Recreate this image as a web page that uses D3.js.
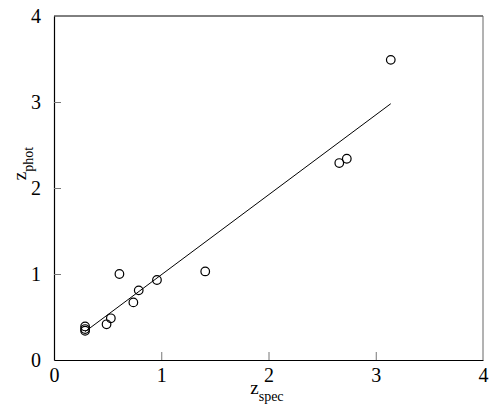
<!DOCTYPE html>
<html>
<head>
<meta charset="utf-8">
<script src="https://cdn.jsdelivr.net/npm/d3@7"></script>
<style>
  body { margin: 0; background: #fff; }
  svg text { font-family: "Times New Roman", "Liberation Serif", "DejaVu Serif", serif; fill: #000; }
</style>
</head>
<body>
<div class="chart"></div>
<script>
var zSpec = [3.14, 2.66, 2.73, 1.41, 0.96, 0.79, 0.74, 0.61, 0.53, 0.49, 0.29, 0.29, 0.29];
var zPhot = [3.49, 2.29, 2.34, 1.03, 0.93, 0.81, 0.67, 1.00, 0.485, 0.415, 0.39, 0.36, 0.34];
var fitSpec = [0.29, 3.14];
var fitPhot = [0.33, 2.98];
var ticks = [0, 1, 2, 3, 4];

var margin = ({top: 16, right: 16, bottom: 49, left: 54});
var width = 499 - margin.left - margin.right,
    height = 409 - margin.top - margin.bottom;

var svg = d3.select(".chart").append("svg")
    .attr("width", 499)
    .attr("height", 409)
    .append("g")
    .attr("transform", "translate(" + margin.left + "," + margin.top + ")");

const xScale = d3.scaleLinear().domain([0, 4]).range([0, width]);
const yScale = d3.scaleLinear().domain([0, 4]).range([height, 0]);

// frame
svg.append("line").attr("x1", 0).attr("x2", width).attr("y1", 0).attr("y2", 0)
    .attr("stroke", "#000");
svg.append("line").attr("x1", width).attr("x2", width).attr("y1", 0).attr("y2", height)
    .attr("stroke", "#666");

const xAxis = d3.axisBottom(xScale)
    .tickValues(ticks)
    .tickSizeInner(-8)
    .tickSizeOuter(0)
    .tickPadding(8)
    .tickFormat(d3.format("d"));

const xAxisGroup = svg.append("g")
    .attr("transform", `translate(0, ${height})`)
    .call(xAxis);

const yAxis = d3.axisLeft(yScale)
    .tickValues(ticks)
    .tickSizeInner(-7)
    .tickSizeOuter(0)
    .tickPadding(13)
    .tickFormat(d3.format("d"));

const yAxisGroup = svg.append("g").call(yAxis);

[xAxisGroup, yAxisGroup].forEach(g => {
    g.attr("font-family", null);
    g.select(".domain").attr("stroke", "#000").attr("stroke-width", 1.2);
    g.selectAll(".tick line").attr("stroke", "#777");
    g.selectAll(".tick text").attr("font-size", 20);
    g.selectAll(".tick").filter(d => d === 0 || d === 4).select("line").remove();
});

// fit line
svg.append("path")
    .datum(d3.zip(fitSpec, fitPhot))
    .attr("fill", "none")
    .attr("stroke", "#000")
    .attr("stroke-width", 1)
    .attr("d", d3.line().x(d => xScale(d[0])).y(d => yScale(d[1])));

// points
svg.append("g")
    .selectAll("circle")
    .data(d3.zip(zSpec, zPhot))
    .enter()
    .append("circle")
    .attr("cx", d => xScale(d[0]))
    .attr("cy", d => yScale(d[1]))
    .attr("r", 4.3)
    .attr("fill", "none")
    .attr("stroke", "#000")
    .attr("stroke-width", 1.2);

// axis labels
const xl = svg.append("text")
    .attr("x", xScale(1.83))
    .attr("y", height + 34)
    .attr("font-size", 19);
xl.append("tspan").text("z");
xl.append("tspan").attr("font-size", 14).attr("dy", 7).text("spec");

const yl = svg.append("text")
    .attr("transform", `translate(${-28}, ${yScale(2.09)}) rotate(-90)`)
    .attr("font-size", 19);
yl.append("tspan").text("z");
yl.append("tspan").attr("font-size", 14).attr("dy", 7).text("phot");
</script>
</body>
</html>
